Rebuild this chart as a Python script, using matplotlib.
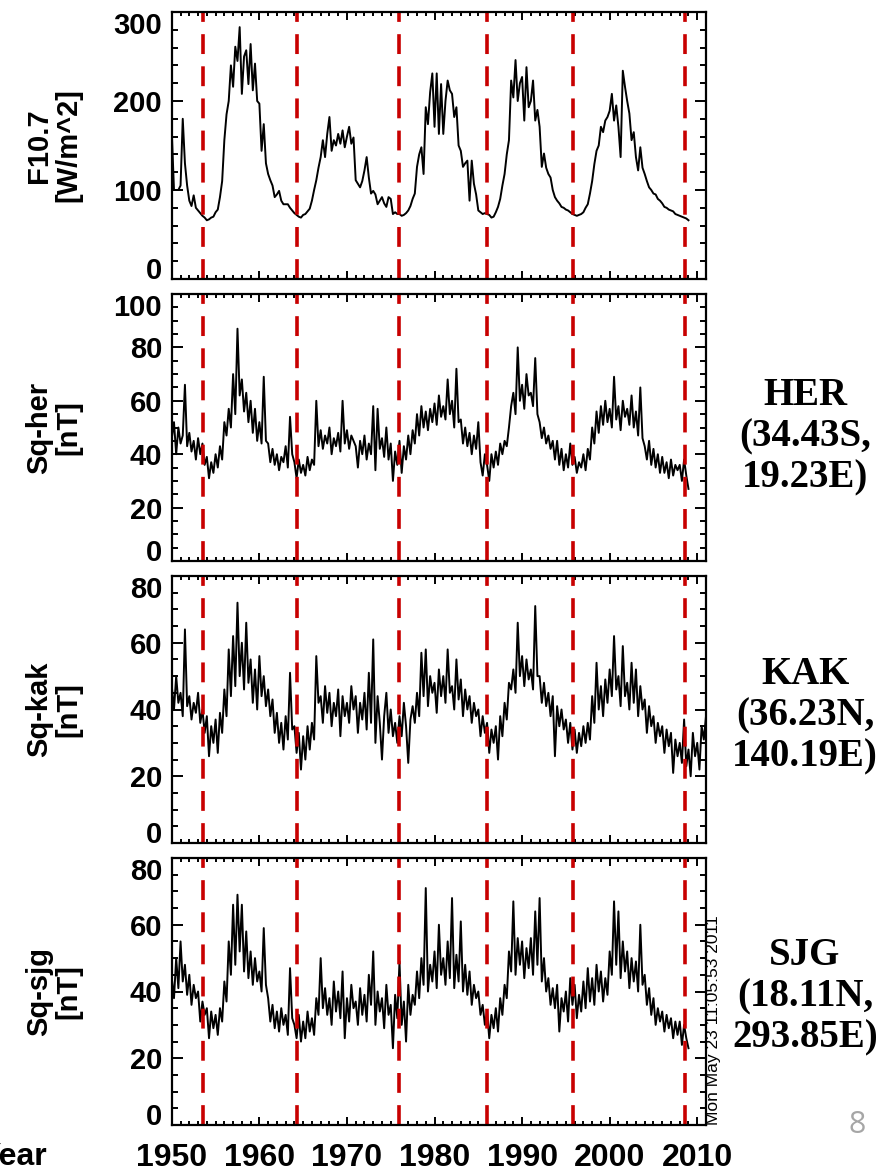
import matplotlib
matplotlib.use("Agg")
import matplotlib.pyplot as plt
import numpy as np

# quarterly samples starting 1950.0
start_year = 1950.0
step = 0.25

f107 = [
    165, 100, 100, 100, 105, 180, 130, 105, 88, 82, 94, 80, 77, 74, 71, 69,
    66, 67, 69, 70, 75, 78, 92, 110, 156, 185, 200, 240, 216, 261, 245, 283,
    208, 250, 257, 219, 264, 212, 242, 200, 197, 144, 174, 130, 118, 111, 105, 92,
    95, 99, 88, 84, 84, 84, 80, 77, 74, 72, 70, 69, 72, 73, 76, 79,
    88, 100, 111, 125, 137, 156, 137, 163, 182, 144, 156, 150, 163, 152, 167, 148,
    160, 171, 152, 159, 111, 107, 103, 110, 122, 137, 114, 96, 99, 95, 84, 88,
    92, 85, 81, 92, 90, 73, 75, 73, 73, 71, 72, 74, 77, 82, 90, 96,
    126, 140, 148, 118, 193, 174, 210, 231, 171, 231, 163, 219, 163, 200, 223, 212,
    208, 182, 193, 150, 144, 126, 130, 133, 88, 133, 107, 95, 77, 75, 73, 74,
    73, 72, 69, 70, 75, 81, 90, 105, 118, 140, 156, 223, 204, 246, 200, 220,
    227, 178, 238, 193, 200, 223, 178, 190, 171, 126, 141, 125, 118, 114, 100, 92,
    88, 85, 81, 80, 78, 77, 75, 73, 72, 71, 72, 73, 75, 80, 84, 96,
    110, 129, 144, 150, 171, 165, 178, 182, 189, 208, 178, 195, 171, 137, 234, 216,
    200, 186, 156, 165, 137, 122, 148, 125, 118, 110, 103, 100, 96, 95, 90, 88,
    85, 81, 80, 78, 77, 76, 73, 72, 71, 70, 69, 68, 66,
]

sq_her = [
    46, 52, 40, 50, 44, 47, 66, 43, 48, 41, 45, 38, 46, 40, 44, 36,
    39, 31, 37, 33, 40, 35, 43, 38, 52, 47, 57, 50, 70, 55, 87, 62,
    68, 56, 63, 52, 60, 48, 57, 45, 52, 44, 69, 45, 44, 37, 42, 36,
    40, 34, 39, 37, 43, 35, 54, 40, 37, 31, 38, 33, 36, 32, 39, 34,
    38, 36, 60, 43, 49, 42, 47, 44, 50, 40, 46, 43, 48, 41, 60, 44,
    49, 42, 47, 45, 43, 35, 45, 40, 47, 38, 44, 40, 58, 34, 57, 42,
    46, 39, 50, 38, 44, 30, 41, 36, 45, 33, 43, 38, 47, 40, 49, 44,
    55, 47, 58, 50, 56, 49, 57, 52, 59, 51, 62, 54, 58, 53, 68, 55,
    60, 50, 72, 52, 53, 44, 50, 43, 48, 40, 47, 42, 52, 37, 32, 40,
    36, 30, 40, 35, 41, 36, 44, 40, 45, 43, 50, 58, 63, 55, 80, 60,
    66, 57, 70, 62, 63, 58, 76, 55, 52, 46, 50, 44, 47, 42, 45, 38,
    45, 36, 42, 34, 40, 35, 44, 36, 39, 33, 37, 35, 40, 34, 42, 38,
    50, 44, 56, 48, 58, 51, 60, 52, 57, 50, 69, 53, 58, 49, 60, 54,
    57, 51, 62, 50, 56, 47, 65, 46, 43, 38, 45, 36, 42, 35, 40, 33,
    39, 33, 37, 31, 38, 32, 36, 34, 36, 30, 38, 32, 27,
]

sq_kak = [
    47, 40, 50, 42, 45, 38, 64, 41, 44, 37, 42, 39, 45, 36, 40, 33,
    38, 26, 35, 30, 37, 27, 39, 33, 46, 38, 58, 44, 62, 47, 72, 50,
    60, 46, 66, 48, 55, 42, 52, 40, 56, 44, 50, 41, 46, 38, 43, 33,
    39, 30, 36, 28, 38, 31, 51, 34, 35, 27, 33, 22, 32, 25, 35, 28,
    36, 31, 56, 42, 44, 36, 47, 39, 45, 35, 42, 38, 46, 32, 44, 38,
    42, 36, 47, 40, 44, 33, 42, 37, 45, 34, 51, 36, 61, 30, 44, 36,
    25, 38, 45, 33, 40, 32, 36, 30, 38, 32, 42, 35, 24, 37, 41, 36,
    45, 38, 57, 44, 58, 41, 50, 45, 48, 39, 52, 44, 50, 42, 58, 45,
    47, 40, 55, 43, 49, 38, 46, 40, 44, 36, 42, 38, 40, 32, 38, 33,
    36, 27, 34, 30, 35, 25, 38, 32, 42, 37, 48, 46, 52, 45, 66, 50,
    56, 47, 55, 49, 52, 46, 71, 50, 50, 42, 48, 41, 45, 38, 44, 26,
    41, 35, 40, 34, 37, 30, 36, 28, 34, 27, 33, 29, 35, 30, 36, 31,
    44, 36, 54, 40, 47, 38, 49, 42, 52, 44, 62, 46, 50, 41, 59, 44,
    48, 40, 54, 42, 52, 38, 47, 40, 43, 33, 41, 35, 38, 30, 36, 32,
    35, 27, 34, 29, 33, 21, 31, 26, 30, 24, 37, 23, 28, 20, 33, 26,
    30, 22, 35, 31, 38,
]

sq_sjg = [
    44, 38, 50, 41, 55, 43, 48, 39, 45, 36, 42, 38, 40, 31, 37, 33,
    35, 26, 34, 29, 33, 27, 35, 31, 43, 37, 55, 45, 66, 48, 69, 52,
    66, 46, 58, 44, 52, 42, 50, 43, 46, 40, 59, 42, 38, 31, 36, 29,
    34, 28, 35, 30, 33, 27, 47, 32, 30, 26, 33, 25, 31, 26, 34, 28,
    32, 27, 38, 33, 50, 35, 41, 33, 38, 30, 43, 34, 40, 32, 46, 26,
    38, 31, 42, 35, 37, 30, 41, 33, 39, 31, 45, 36, 52, 30, 40, 34,
    38, 29, 42, 33, 36, 23, 39, 32, 49, 30, 37, 25, 42, 33, 39, 36,
    46, 38, 50, 42, 71, 40, 48, 43, 52, 41, 60, 45, 50, 42, 55, 44,
    68, 41, 51, 43, 61, 40, 48, 39, 46, 36, 42, 38, 40, 33, 36, 30,
    34, 26, 33, 29, 35, 28, 38, 33, 42, 38, 52, 46, 67, 45, 56, 48,
    55, 44, 53, 47, 56, 45, 64, 48, 68, 43, 50, 40, 44, 36, 41, 35,
    42, 28, 38, 34, 40, 31, 44, 36, 42, 32, 39, 34, 43, 35, 47, 37,
    44, 36, 48, 40, 46, 37, 44, 39, 52, 45, 67, 48, 64, 44, 55, 46,
    52, 41, 50, 43, 49, 40, 60, 42, 45, 36, 41, 33, 38, 30, 35, 31,
    34, 28, 33, 29, 32, 26, 31, 27, 31, 24, 30, 26, 23,
]

# solar minimum markers
minima = [1953.55, 1964.3, 1976.0, 1986.0, 1995.8, 2008.6]

series = [f107, sq_her, sq_kak, sq_sjg]
ylabels = ["F10.7\n[W/m^2]", "Sq-her\n[nT]", "Sq-kak\n[nT]", "Sq-sjg\n[nT]"]
ymax = [300, 100, 80, 80]
ymajor = [100, 20, 20, 20]
yminor = [20, 5, 5, 5]
stations = ["HER\n(34.43S,\n19.23E)", "KAK\n(36.23N,\n140.19E)", "SJG\n(18.11N,\n293.85E)"]
xticks = [1950, 1960, 1970, 1980, 1990, 2000, 2010]

W, H = 896, 1173
fig = plt.figure(figsize=(W / 100, H / 100), dpi=100)

sans = "Liberation Sans"
serif = "Liberation Serif"

left_px, right_px = 171.8, 706.0
tops = [12, 294, 576, 858]
height_px = 267

for i, vals in enumerate(series):
    top = tops[i]
    ax = fig.add_axes([left_px / W, 1 - (top + height_px) / H,
                       (right_px - left_px) / W, height_px / H])
    t = start_year + step * np.arange(len(vals))
    ax.plot(t, vals, color="black", lw=1.4)
    for m in minima:
        ax.axvline(m, color="#c80000", lw=2.6, dashes=(5.5, 3.4))
    ax.set_xlim(1950, 2011)
    ax.set_ylim(0, ymax[i])
    ax.set_yticks(np.arange(0, ymax[i] + 1, ymajor[i]))
    ax.set_yticks(np.arange(0, ymax[i] + 1, yminor[i]), minor=True)
    ax.set_xticks(xticks)
    ax.set_xticks(np.arange(1950, 2012, 1), minor=True)
    ax.tick_params(which="both", direction="in", top=True, right=True, width=1.4)
    ax.tick_params(axis="y", which="major", length=8)
    ax.tick_params(axis="y", which="minor", length=4)
    ax.tick_params(axis="x", which="major", length=6)
    ax.tick_params(axis="x", which="minor", length=3)
    for s in ax.spines.values():
        s.set_linewidth(1.6)
    ax.tick_params(axis="y", pad=7)
    ylabs = ax.get_yticklabels()
    for lab in ylabs:
        lab.set_fontfamily(sans)
        lab.set_fontweight("bold")
        lab.set_fontsize(21)
    # end labels sit inside the frame, as in the original
    ylabs[0].set_verticalalignment("baseline")
    ylabs[-1].set_verticalalignment("top")
    if i < 3:
        ax.set_xticklabels([])
    else:
        ax.tick_params(axis="x", pad=13)
        for lab in ax.get_xticklabels():
            lab.set_fontfamily(sans)
            lab.set_fontweight("bold")
            lab.set_fontsize(23)
    cy = 1 - (top + height_px / 2) / H
    fig.text(54 / W, cy, ylabels[i], rotation=90, ha="center", va="center",
             fontsize=21, fontweight="bold", family=sans, linespacing=1.05)

# station names on the right
for i, txt in enumerate(stations):
    cy = [437, 716, 997][i]
    fig.text(805 / W, 1 - cy / H, txt, ha="center", va="center",
             fontsize=28, fontweight="bold", family=serif, linespacing=1.15)

fig.text(713 / W, 1 - 1125 / H, "Mon May 23 11:05:53 2011", rotation=90,
         ha="center", va="bottom", fontsize=12.5, family=sans)
fig.text(47 / W, 1 - 1157 / H, "Year", ha="right", va="center",
         fontsize=23, fontweight="bold", family=sans)
fig.text(857 / W, 1 - 1125 / H, "8", ha="center", va="center",
         fontsize=22, color="#a6a6a6", family="Open Sans")

fig.savefig("out.png", dpi=100)
